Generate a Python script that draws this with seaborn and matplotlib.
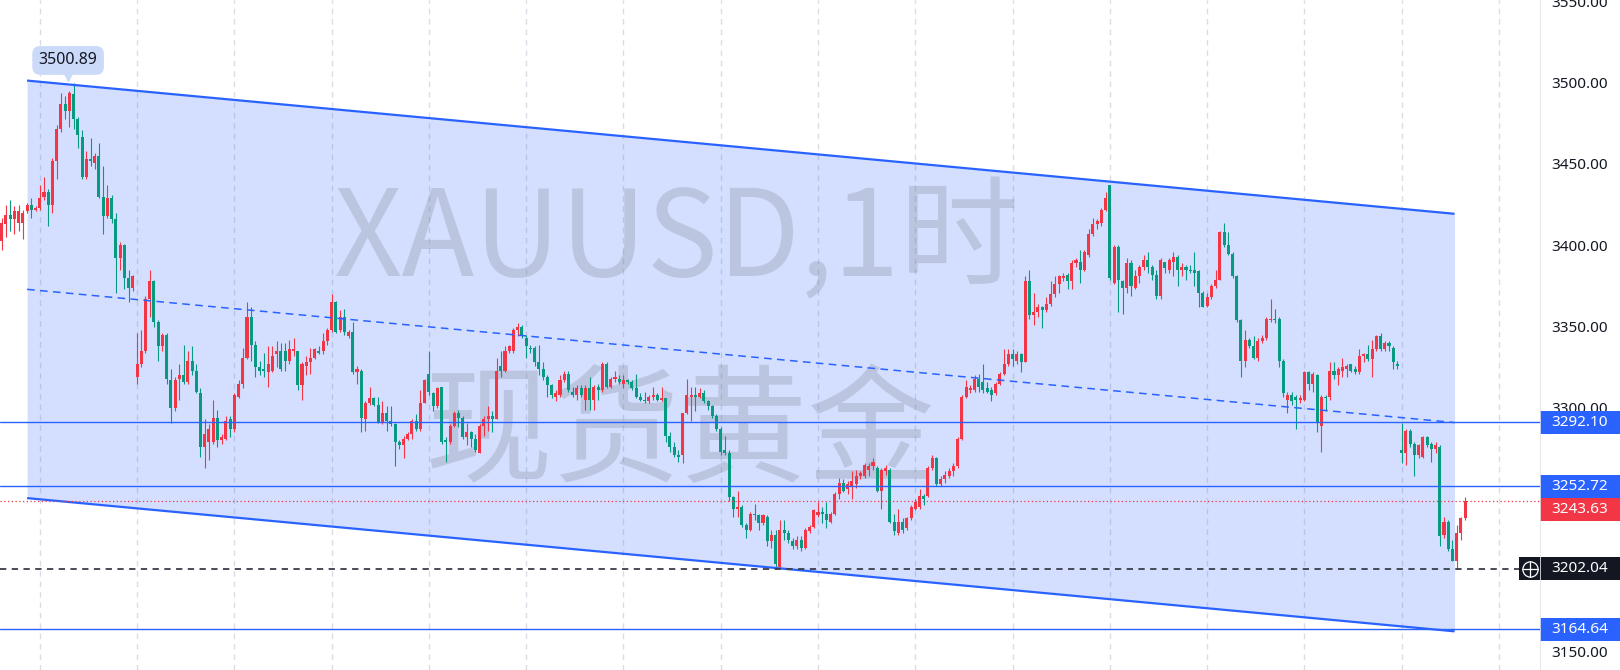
import matplotlib
matplotlib.use("Agg")
import matplotlib.pyplot as plt
import matplotlib.transforms as mtransforms
from matplotlib.patches import Rectangle
import numpy as np
import pandas as pd
import seaborn as sns

# --- 1. DATOS: velas de 1 hora XAUUSD ---
apertura = [
    3404, 3414, 3420, 3417, 3415, 3415, 3422, 3426, 3423, 3424,
    3431, 3434, 3426, 3453, 3473, 3488, 3484, 3494, 3479, 3468,
    3443, 3454, 3452, 3456, 3431, 3419, 3430, 3417, 3393, 3401,
    3381, 3375, 3320, 3328, 3336, 3368, 3379, 3354, 3339, 3346,
    3318, 3301, 3319, 3321, 3317, 3330, 3324, 3310, 3277, 3280,
    3280, 3295, 3281, 3282, 3294, 3288, 3308, 3316, 3332, 3357,
    3340, 3326, 3325, 3323, 3324, 3334, 3336, 3336, 3330, 3336,
    3336, 3315, 3327, 3329, 3332, 3336, 3336, 3342, 3349, 3366,
    3349, 3357, 3345, 3348, 3323, 3324, 3294, 3304, 3307, 3303,
    3292, 3298, 3293, 3291, 3280, 3278, 3282, 3285, 3293, 3288,
    3304, 3322, 3310, 3302, 3314, 3281, 3280, 3290, 3298, 3295,
    3283, 3286, 3282, 3273, 3290, 3294, 3296, 3294, 3327, 3324,
    3336, 3336, 3349, 3351, 3344, 3338, 3338, 3329, 3325, 3320,
    3315, 3308, 3309, 3318, 3322, 3311, 3309, 3313, 3306, 3313,
    3306, 3314, 3312, 3328, 3314, 3319, 3319, 3316, 3318, 3317,
    3313, 3308, 3306, 3305, 3308, 3309, 3306, 3307, 3284, 3277,
    3272, 3272, 3298, 3308, 3309, 3308, 3310, 3305, 3302, 3296,
    3288, 3275, 3273, 3246, 3239, 3240, 3229, 3226, 3236, 3235,
    3230, 3234, 3219, 3223, 3203, 3226, 3224, 3219, 3216, 3220,
    3215, 3225, 3228, 3235, 3237, 3236, 3231, 3236, 3248, 3255,
    3251, 3253, 3254, 3259, 3259, 3263, 3265, 3264, 3250, 3262,
    3263, 3231, 3224, 3231, 3227, 3233, 3239, 3240, 3247, 3247,
    3264, 3270, 3254, 3257, 3259, 3262, 3265, 3282, 3308, 3312,
    3312, 3319, 3317, 3313, 3312, 3310, 3316, 3322, 3328, 3334,
    3330, 3334, 3329, 3379, 3358, 3360, 3363, 3361, 3365, 3371,
    3377, 3381, 3383, 3379, 3390, 3391, 3386, 3395, 3408, 3414,
    3415, 3423, 3438, 3378, 3400, 3379, 3375, 3390, 3375, 3382,
    3388, 3392, 3388, 3383, 3370, 3391, 3386, 3391, 3394, 3386,
    3388, 3386, 3386, 3385, 3372, 3364, 3369, 3376, 3380, 3409,
    3401, 3396, 3382, 3355, 3330, 3343, 3339, 3332, 3342, 3344,
    3355, 3356, 3356, 3330, 3306, 3309, 3308, 3306, 3306, 3323,
    3316, 3321, 3290, 3308, 3308, 3324, 3321, 3324, 3325, 3328,
    3325, 3323, 3333, 3334, 3331, 3337, 3345, 3337, 3341, 3338,
    3328, 3275, 3273, 3287, 3279, 3272, 3271, 3283, 3279, 3276,
    3277, 3223, 3231, 3214, 3207, 3224, 3233,
]
cierre = [
    3415, 3420, 3417, 3422, 3422, 3421, 3426, 3423, 3424, 3430,
    3434, 3426, 3453, 3473, 3488, 3484, 3495, 3479, 3469, 3443,
    3454, 3453, 3456, 3431, 3419, 3430, 3417, 3393, 3401, 3381,
    3375, 3382, 3328, 3336, 3368, 3379, 3354, 3339, 3346, 3319,
    3301, 3318, 3321, 3317, 3330, 3324, 3311, 3277, 3285, 3288,
    3295, 3281, 3283, 3293, 3288, 3309, 3316, 3332, 3357, 3340,
    3326, 3324, 3324, 3328, 3333, 3336, 3325, 3330, 3337, 3337,
    3315, 3328, 3329, 3332, 3337, 3335, 3342, 3349, 3366, 3348,
    3357, 3348, 3348, 3323, 3325, 3295, 3304, 3307, 3303, 3292,
    3298, 3293, 3291, 3280, 3278, 3282, 3285, 3293, 3288, 3304,
    3318, 3311, 3302, 3313, 3280, 3280, 3290, 3298, 3295, 3283,
    3286, 3282, 3275, 3290, 3294, 3296, 3294, 3324, 3324, 3336,
    3339, 3349, 3351, 3346, 3339, 3337, 3329, 3325, 3320, 3315,
    3309, 3310, 3318, 3322, 3312, 3309, 3313, 3309, 3313, 3306,
    3314, 3312, 3328, 3314, 3319, 3320, 3317, 3318, 3317, 3313,
    3308, 3306, 3305, 3308, 3309, 3306, 3307, 3284, 3277, 3272,
    3271, 3298, 3309, 3309, 3308, 3310, 3305, 3302, 3296, 3288,
    3274, 3273, 3246, 3239, 3240, 3229, 3226, 3236, 3235, 3230,
    3235, 3219, 3223, 3205, 3226, 3224, 3220, 3216, 3220, 3215,
    3226, 3228, 3238, 3237, 3236, 3232, 3236, 3248, 3255, 3250,
    3254, 3256, 3259, 3261, 3266, 3265, 3268, 3250, 3263, 3264,
    3231, 3225, 3231, 3226, 3233, 3240, 3243, 3247, 3245, 3264,
    3270, 3254, 3257, 3260, 3262, 3265, 3282, 3308, 3314, 3313,
    3319, 3314, 3312, 3311, 3309, 3316, 3322, 3328, 3334, 3331,
    3334, 3329, 3379, 3358, 3360, 3363, 3361, 3365, 3371, 3377,
    3382, 3382, 3379, 3390, 3392, 3386, 3397, 3408, 3414, 3416,
    3423, 3430, 3381, 3400, 3380, 3375, 3390, 3376, 3382, 3388,
    3392, 3388, 3383, 3370, 3392, 3387, 3392, 3394, 3386, 3388,
    3386, 3385, 3384, 3372, 3363, 3369, 3376, 3380, 3409, 3401,
    3396, 3382, 3355, 3330, 3343, 3339, 3332, 3342, 3344, 3356,
    3356, 3355, 3330, 3310, 3309, 3305, 3306, 3307, 3323, 3316,
    3322, 3292, 3308, 3307, 3324, 3321, 3325, 3326, 3327, 3324,
    3323, 3333, 3334, 3331, 3337, 3345, 3337, 3341, 3339, 3329,
    3327, 3273, 3287, 3279, 3272, 3278, 3283, 3278, 3276, 3278,
    3222, 3231, 3214, 3207, 3224, 3233, 3243.63,
]
maximo = [
    3418, 3426, 3429, 3425, 3426, 3423, 3427, 3430, 3425, 3438,
    3443, 3436, 3455, 3475, 3495, 3493, 3496, 3500.89, 3480, 3472,
    3459, 3467, 3458, 3464, 3450, 3438, 3432, 3421, 3403, 3402,
    3386, 3383, 3347, 3349, 3370, 3386, 3380, 3355, 3347, 3347,
    3325, 3320, 3328, 3340, 3336, 3339, 3328, 3313, 3294, 3291,
    3306, 3300, 3285, 3296, 3296, 3310, 3318, 3338, 3366, 3363,
    3342, 3330, 3335, 3339, 3339, 3342, 3341, 3341, 3343, 3344,
    3336, 3329, 3333, 3338, 3338, 3339, 3347, 3350, 3371, 3367,
    3361, 3362, 3349, 3354, 3327, 3325, 3305, 3314, 3308, 3308,
    3305, 3302, 3302, 3292, 3281, 3284, 3286, 3294, 3297, 3312,
    3319, 3336, 3311, 3314, 3314, 3283, 3291, 3299, 3300, 3296,
    3292, 3287, 3285, 3291, 3296, 3302, 3299, 3332, 3336, 3339,
    3340, 3350, 3353, 3352, 3346, 3340, 3339, 3340, 3329, 3321,
    3316, 3312, 3321, 3324, 3324, 3314, 3315, 3315, 3315, 3320,
    3315, 3316, 3329, 3329, 3320, 3324, 3321, 3321, 3319, 3318,
    3322, 3310, 3311, 3309, 3314, 3310, 3314, 3307, 3286, 3280,
    3275, 3298, 3319, 3314, 3314, 3313, 3312, 3306, 3303, 3297,
    3289, 3284, 3275, 3247, 3250, 3241, 3230, 3237, 3242, 3236,
    3236, 3235, 3226, 3226, 3232, 3232, 3226, 3221, 3222, 3222,
    3227, 3229, 3239, 3243, 3240, 3243, 3237, 3249, 3258, 3257,
    3256, 3262, 3263, 3262, 3267, 3267, 3270, 3265, 3264, 3266,
    3264, 3236, 3239, 3233, 3234, 3241, 3245, 3251, 3248, 3265,
    3272, 3271, 3259, 3262, 3264, 3267, 3283, 3309, 3318, 3315,
    3321, 3322, 3328, 3317, 3314, 3317, 3323, 3337, 3337, 3337,
    3336, 3335, 3382, 3386, 3372, 3365, 3364, 3369, 3379, 3382,
    3383, 3384, 3384, 3392, 3393, 3398, 3398, 3411, 3418, 3417,
    3424, 3434, 3438, 3401, 3401, 3380, 3393, 3392, 3386, 3389,
    3395, 3397, 3389, 3386, 3393, 3391, 3393, 3397, 3395, 3390,
    3389, 3389, 3397, 3386, 3373, 3372, 3377, 3386, 3410, 3415,
    3409, 3397, 3383, 3356, 3349, 3344, 3345, 3344, 3346, 3357,
    3368, 3362, 3357, 3331, 3311, 3311, 3309, 3309, 3324, 3324,
    3323, 3322, 3309, 3309, 3329, 3329, 3326, 3332, 3328, 3328,
    3327, 3337, 3335, 3340, 3343, 3346, 3347, 3342, 3342, 3339,
    3330, 3292, 3288, 3288, 3280, 3279, 3284, 3284, 3280, 3280,
    3278, 3234, 3232, 3220, 3229, 3234, 3246,
]
minimo = [
    3398, 3406, 3410, 3408, 3410, 3405, 3421, 3418, 3422, 3423,
    3429, 3413, 3421, 3442, 3471, 3479, 3474, 3473, 3461, 3442,
    3442, 3450, 3448, 3430, 3408, 3418, 3415, 3372, 3386, 3374,
    3366, 3373, 3316, 3326, 3335, 3357, 3351, 3330, 3336, 3316,
    3292, 3299, 3306, 3316, 3316, 3321, 3310, 3271, 3264, 3269,
    3279, 3277, 3279, 3281, 3283, 3286, 3307, 3313, 3331, 3330,
    3320, 3321, 3320, 3314, 3323, 3326, 3324, 3324, 3328, 3333,
    3312, 3306, 3321, 3322, 3331, 3334, 3334, 3340, 3348, 3347,
    3348, 3346, 3344, 3322, 3316, 3286, 3287, 3303, 3302, 3292,
    3291, 3287, 3290, 3265, 3276, 3270, 3281, 3282, 3287, 3287,
    3304, 3309, 3299, 3301, 3279, 3268, 3279, 3289, 3289, 3282,
    3278, 3277, 3274, 3273, 3284, 3287, 3286, 3294, 3320, 3323,
    3335, 3335, 3345, 3344, 3332, 3335, 3327, 3321, 3318, 3308,
    3307, 3305, 3308, 3317, 3311, 3308, 3306, 3308, 3300, 3300,
    3300, 3306, 3311, 3313, 3313, 3317, 3316, 3313, 3316, 3312,
    3307, 3305, 3304, 3304, 3306, 3305, 3305, 3280, 3274, 3271,
    3268, 3267, 3297, 3293, 3299, 3307, 3304, 3300, 3295, 3287,
    3272, 3272, 3244, 3234, 3234, 3228, 3221, 3225, 3232, 3226,
    3229, 3216, 3215, 3202, 3202, 3220, 3218, 3214, 3214, 3213,
    3214, 3224, 3227, 3234, 3230, 3227, 3230, 3235, 3245, 3249,
    3248, 3245, 3252, 3257, 3258, 3259, 3263, 3249, 3239, 3260,
    3230, 3223, 3223, 3224, 3226, 3232, 3238, 3239, 3241, 3246,
    3263, 3253, 3253, 3255, 3258, 3259, 3264, 3281, 3307, 3310,
    3311, 3311, 3310, 3310, 3305, 3309, 3315, 3321, 3327, 3327,
    3328, 3323, 3329, 3356, 3352, 3357, 3350, 3360, 3364, 3369,
    3372, 3379, 3374, 3374, 3388, 3378, 3385, 3394, 3407, 3411,
    3413, 3422, 3380, 3377, 3360, 3359, 3372, 3370, 3374, 3378,
    3386, 3384, 3380, 3368, 3368, 3384, 3384, 3382, 3376, 3382,
    3380, 3384, 3376, 3363, 3363, 3363, 3368, 3375, 3380, 3400,
    3395, 3381, 3354, 3320, 3326, 3338, 3331, 3330, 3341, 3343,
    3354, 3353, 3326, 3308, 3298, 3303, 3288, 3304, 3305, 3312,
    3311, 3286, 3274, 3299, 3306, 3319, 3315, 3320, 3320, 3323,
    3322, 3322, 3329, 3330, 3320, 3336, 3336, 3336, 3336, 3325,
    3325, 3267, 3266, 3277, 3259, 3270, 3270, 3277, 3268, 3273,
    3216, 3221, 3213, 3207, 3202, 3220, 3232,
]

# canal paralelo dibujado: (índice de vela, precio)
canal_x = [6.0, 343.5]
canal_sup = [3502.5, 3420.5]
canal_inf = [3245.5, 3163.5]

niveles_azules = [3292.10, 3252.72, 3164.64]
precio_actual = 3243.63
precio_cursor = 3202.04
escala_precios = [3150, 3200, 3250, 3300, 3350, 3400, 3450, 3500, 3550]
separadores_dia = [9, 32, 55, 78, 101, 124, 147, 170, 193, 216, 239, 262, 285, 308, 331, 354]

# --- 2. ESTILO ---
sns.set_style("white")
plt.rcParams['font.family'] = ['Noto Sans', 'Noto Sans CJK SC', 'DejaVu Sans']

ROJO = '#F23645'
VERDE = '#089981'
AZUL = '#2962FF'
OSCURO = '#131722'

df = pd.DataFrame({'o': apertura, 'c': cierre, 'h': maximo, 'l': minimo})
sube = df['c'] >= df['o']
colores = np.where(sube, ROJO, VERDE)   # convención china: rojo sube, verde baja

fig = plt.figure(figsize=(16.2, 6.7), dpi=100)
ax = fig.add_axes([0, 0, 1540 / 1620, 1])
ax_precio = fig.add_axes([1540 / 1620, 0, 80 / 1620, 1])

y_min, y_max = 3139.7, 3552.1
ax.set_xlim(-0.4, 363.7)
ax.set_ylim(y_min, y_max)
ax_precio.set_xlim(0, 1)
ax_precio.set_ylim(y_min, y_max)

# --- 3. REJILLA VERTICAL ---
for xd in separadores_dia:
    ax.axvline(xd, color='#DADDE5', lw=1, ls=(0, (4, 3.5)), zorder=0.5)

# --- 4. CANAL ---
ax.fill_between(canal_x, canal_inf, canal_sup, color=AZUL, alpha=0.2, lw=0, zorder=1)
ax.plot(canal_x, canal_sup, color=AZUL, lw=1.6, zorder=6, solid_capstyle='butt')
ax.plot(canal_x, canal_inf, color=AZUL, lw=1.6, zorder=6, solid_capstyle='butt')
canal_medio = [(a + b) / 2 for a, b in zip(canal_sup, canal_inf)]
ax.plot(canal_x, canal_medio, color=AZUL, lw=1.1, ls=(0, (5, 3.5)), zorder=6)

# --- 5. MARCA DE AGUA ---
ax.text(0.4395, 0.587, 'XAUUSD,1时', transform=ax.transAxes, ha='center', va='baseline',
        fontsize=86, color='#787B86', alpha=0.25, zorder=1.5,
        family=['Noto Sans CJK SC', 'DejaVu Sans'])
ax.text(0.4415, 0.295, '现货黄金', transform=ax.transAxes, ha='center', va='baseline',
        fontsize=92, color='#787B86', alpha=0.25, zorder=1.5,
        family=['Noto Sans CJK SC', 'DejaVu Sans'])

# --- 6. VELAS ---
mecha_baja = df[['l', 'o', 'c']].min(axis=1)
mecha_alta = df[['h', 'o', 'c']].max(axis=1)
ax.vlines(df.index, mecha_baja, mecha_alta, colors=colores, lw=0.8, zorder=4)
cuerpo = (df['c'] - df['o']).abs().clip(lower=0.7)
ax.bar(df.index, cuerpo, bottom=df[['o', 'c']].min(axis=1), width=0.72,
       color=colores, linewidth=0, zorder=5)

# --- 7. NIVELES HORIZONTALES ---
for nivel in niveles_azules:
    ax.axhline(nivel, color=AZUL, lw=1.0, zorder=6)
ax.axhline(precio_actual, color=ROJO, lw=0.9, ls=(0, (1, 2)), zorder=6)
ax.axhline(precio_cursor, xmin=0, xmax=1520 / 1540, color='#3A3E4A', lw=1.3,
           ls=(0, (3.5, 3)), zorder=6)

# etiqueta del máximo
i_pico = int(np.argmax(maximo))
ax.text(i_pico - 1.3, maximo[i_pico] + 14.0, f'{maximo[i_pico]:.2f}', ha='center', va='center',
        fontsize=11.5, color=OSCURO, zorder=7,
        bbox=dict(boxstyle='round,pad=0.4,rounding_size=0.5', fc='#CCDAFA', ec='none'))
ax.plot([i_pico - 1.3], [maximo[i_pico] + 4.6], marker='v', ms=7, color='#CCDAFA', zorder=7)

# icono del cursor
mezcla = mtransforms.blended_transform_factory(ax.transAxes, ax.transData)
alto_tag = 14.2
ax.add_patch(Rectangle((1519 / 1540, precio_cursor - alto_tag / 2), 21 / 1540, alto_tag,
                       transform=mezcla, fc=OSCURO, ec='none', zorder=8, clip_on=False))
ax.plot([1530 / 1540], [precio_cursor], marker='o', ms=11, mfc='none', mec='white', mew=0.9,
        transform=mezcla, zorder=9, clip_on=False)
ax.plot([1530 / 1540], [precio_cursor], marker='+', ms=11, color='white', mew=0.9,
        transform=mezcla, zorder=9, clip_on=False)

ax.set_xticks([])
ax.set_yticks([])
for s in ax.spines.values():
    s.set_visible(False)

# --- 8. ESCALA DE PRECIOS ---
for p in escala_precios:
    ax_precio.text(0.5, p, f'{p:.2f}', ha='center', va='center', fontsize=11, color=OSCURO, zorder=1)

etiquetas = [
    (3292.10, 3292.10, AZUL),
    (3252.72, 3252.72, AZUL),
    (precio_actual, 3252.72 - alto_tag, ROJO),   # se desplaza para no tapar la etiqueta azul
    (precio_cursor, precio_cursor, OSCURO),
    (3164.64, 3164.64, AZUL),
]
for valor, centro, col in etiquetas:
    ax_precio.add_patch(Rectangle((0, centro - alto_tag / 2), 1, alto_tag, fc=col, ec='none', zorder=3))
    ax_precio.text(0.5, centro, f'{valor:.2f}', ha='center', va='center', fontsize=11,
                   color='white', zorder=4)

ax_precio.axvline(0, color='#E0E3EB', lw=1.2, zorder=5)
ax_precio.set_xticks([])
ax_precio.set_yticks([])
for s in ax_precio.spines.values():
    s.set_visible(False)

plt.savefig('out.png', dpi=100, facecolor='white')
plt.close()
